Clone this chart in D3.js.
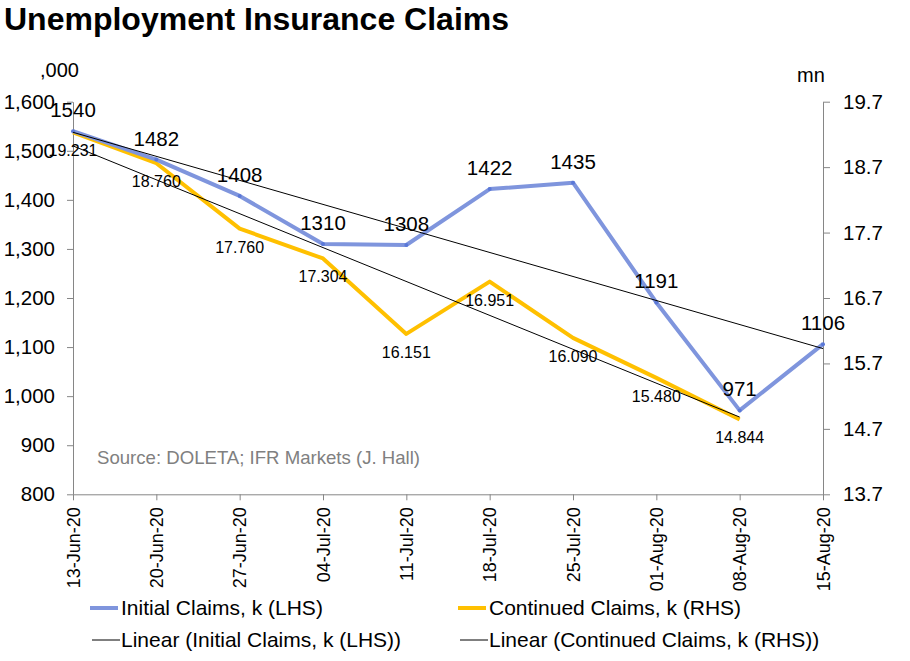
<!DOCTYPE html>
<html>
<head>
<meta charset="utf-8">
<script src="https://cdn.jsdelivr.net/npm/d3@7"></script>
<style>
  body { margin: 0; background: #fff; }
  svg { font-family: 'Liberation Sans', Arial, sans-serif; }
</style>
</head>
<body>
<div id="chart"></div>
<script>
const weeks = ['13-Jun-20', '20-Jun-20', '27-Jun-20', '04-Jul-20', '11-Jul-20',
  '18-Jul-20', '25-Jul-20', '01-Aug-20', '08-Aug-20', '15-Aug-20']
const initialClaims = [1540, 1482, 1408, 1310, 1308, 1422, 1435, 1191, 971, 1106]
const continuedClaims = [19.231, 18.760, 17.760, 17.304, 16.151, 16.951, 16.090, 15.480, 14.844]
const leftTicks = [800, 900, 1000, 1100, 1200, 1300, 1400, 1500, 1600]
const rightTicks = [13.7, 14.7, 15.7, 16.7, 17.7, 18.7, 19.7]

const width = 910
const height = 661
const plot = { left: 73, right: 823, top: 101.7, bottom: 494.3 }
const blue = '#7f95dd'
const gold = '#ffc000'
const axisGrey = '#868686'

// least squares fit, same as an Excel linear trendline
function linearFit (values) {
  const n = values.length
  const xm = d3.mean(values, (d, i) => i)
  const ym = d3.mean(values)
  let sxy = 0
  let sxx = 0
  values.forEach((v, i) => {
    sxy += (i - xm) * (v - ym)
    sxx += (i - xm) * (i - xm)
  })
  const slope = sxy / sxx
  const b = ym - slope * xm
  return [[0, b], [n - 1, b + slope * (n - 1)]]
}

const svg = d3.select('#chart')
  .append('svg')
  .attr('width', width)
  .attr('height', height)

const x = d3.scalePoint()
  .domain(weeks)
  .range([plot.left, plot.right])

const yL = d3.scaleLinear()
  .domain([800, 1600])
  .range([plot.bottom, plot.top])

const yR = d3.scaleLinear()
  .domain([13.7, 19.7])
  .range([plot.bottom, plot.top])

svg.append('text')
  .attr('x', 4)
  .attr('y', 30)
  .attr('font-size', 32)
  .attr('font-weight', 'bold')
  .text('Unemployment Insurance Claims')

svg.append('text')
  .attr('x', 40)
  .attr('y', 77)
  .attr('font-size', 20)
  .text(',000')

svg.append('text')
  .attr('x', 797)
  .attr('y', 82)
  .attr('font-size', 20)
  .text('mn')

function styleAxis (g, size) {
  g.select('.domain').attr('stroke', axisGrey)
  g.selectAll('.tick line').attr('stroke', axisGrey)
  g.selectAll('text').attr('fill', '#000').attr('font-size', size)
    .attr('font-family', "'Liberation Sans', Arial, sans-serif")
}

svg.append('g')
  .attr('transform', `translate(${plot.left},0)`)
  .call(d3.axisLeft(yL).tickValues(leftTicks).tickFormat(d3.format(',')).tickSize(6).tickSizeOuter(0).tickPadding(12))
  .call(styleAxis, 20.5)

svg.append('g')
  .attr('transform', `translate(${plot.right},0)`)
  .call(d3.axisRight(yR).tickValues(rightTicks).tickFormat(d3.format('.1f')).tickSize(7).tickSizeOuter(0).tickPadding(13))
  .call(styleAxis, 20.5)

svg.append('g')
  .attr('transform', `translate(0,${plot.bottom})`)
  .call(d3.axisBottom(x).tickSize(6).tickSizeOuter(0))
  .call(styleAxis, 18)
  .selectAll('text')
  .attr('transform', 'rotate(-90)')
  .attr('x', -13)
  .attr('y', 0)
  .attr('dy', '0.35em')
  .style('text-anchor', 'end')

svg.append('text')
  .attr('x', 97)
  .attr('y', 464)
  .attr('font-size', 18.6)
  .attr('fill', '#808080')
  .text('Source: DOLETA; IFR Markets (J. Hall)')

const lineL = d3.line()
  .x((d, i) => x(weeks[i]))
  .y(d => yL(d))

const lineR = d3.line()
  .x((d, i) => x(weeks[i]))
  .y(d => yR(d))

svg.append('path')
  .datum(continuedClaims)
  .attr('fill', 'none')
  .attr('stroke', gold)
  .attr('stroke-width', 4)
  .attr('stroke-linejoin', 'round')
  .attr('d', lineR)

svg.append('path')
  .datum(initialClaims)
  .attr('fill', 'none')
  .attr('stroke', blue)
  .attr('stroke-width', 4)
  .attr('stroke-linejoin', 'round')
  .attr('d', lineL)

svg.selectAll('circle.mark')
  .data(initialClaims)
  .join('circle')
  .attr('class', 'mark')
  .attr('cx', (d, i) => x(weeks[i]))
  .attr('cy', d => yL(d))
  .attr('r', 2)
  .attr('fill', '#5a78d8')

const trendLine = d3.line()
  .x(d => x(weeks[d[0]]))

svg.append('path')
  .attr('fill', 'none')
  .attr('stroke', '#000')
  .attr('stroke-width', 1)
  .attr('d', trendLine.y(d => yL(d[1]))(linearFit(initialClaims)))

svg.append('path')
  .attr('fill', 'none')
  .attr('stroke', '#000')
  .attr('stroke-width', 1)
  .attr('d', trendLine.y(d => yR(d[1]))(linearFit(continuedClaims)))

svg.selectAll('text.lblL')
  .data(initialClaims)
  .join('text')
  .attr('class', 'lblL')
  .attr('x', (d, i) => x(weeks[i]))
  .attr('y', d => yL(d) - 14)
  .attr('text-anchor', 'middle')
  .attr('font-size', 20.5)
  .text(d => d)

svg.selectAll('text.lblR')
  .data(continuedClaims)
  .join('text')
  .attr('class', 'lblR')
  .attr('x', (d, i) => x(weeks[i]))
  .attr('y', d => yR(d) + 24)
  .attr('text-anchor', 'middle')
  .attr('font-size', 16)
  .text(d => d3.format('.3f')(d))

const legendItems = [
  { label: 'Initial Claims, k (LHS)', color: blue, w: 4, x: 90, y: 608 },
  { label: 'Continued Claims, k (RHS)', color: gold, w: 4, x: 458, y: 608 },
  { label: 'Linear (Initial Claims, k (LHS))', color: '#000', w: 1, x: 92, y: 640 },
  { label: 'Linear (Continued Claims, k (RHS))', color: '#000', w: 1, x: 460, y: 640 }
]

const legend = svg.append('g')
  .selectAll('g')
  .data(legendItems)
  .join('g')
  .attr('transform', d => `translate(${d.x},${d.y})`)

legend.append('line')
  .attr('x1', 0)
  .attr('x2', 28)
  .attr('stroke', d => d.color)
  .attr('stroke-width', d => d.w)

legend.append('text')
  .attr('x', d => d.w > 1 ? 31 : 29)
  .attr('dy', '0.35em')
  .attr('font-size', 21)
  .text(d => d.label)
</script>
</body>
</html>
